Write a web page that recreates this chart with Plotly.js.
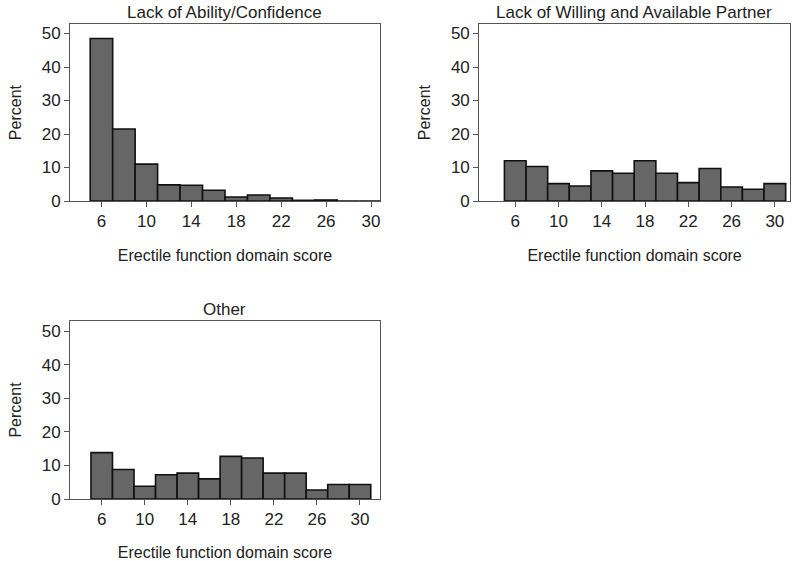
<!DOCTYPE html>
<html>
<head>
<meta charset="utf-8">
<script src="https://cdn.plot.ly/plotly-3.0.1.min.js"></script>
<style>html,body{margin:0;padding:0;background:#fff;}#chart{width:800px;height:561px;}</style>
</head>
<body>
<div id="chart"></div>
<script>
const scoreBins = [6, 8, 10, 12, 14, 16, 18, 20, 22, 24, 26, 28, 30];
const abilityPct = [48.5, 21.5, 11, 4.8, 4.7, 3.2, 1.2, 1.8, 0.9, 0.2, 0.3, 0, 0];
const partnerPct = [12, 10.3, 5.2, 4.5, 9, 8.3, 12, 8.3, 5.5, 9.7, 4.2, 3.5, 5.2];
const otherPct = [13.8, 8.8, 3.8, 7.2, 7.7, 6, 12.7, 12.2, 7.7, 7.7, 2.7, 4.3, 4.3];
const panelTitles = ["Lack of Ability/Confidence", "Lack of Willing and Available Partner", "Other"];
const xTickVals = [6, 10, 14, 18, 22, 26, 30];
const yTickVals = [0, 10, 20, 30, 40, 50];
const xLabel = "Erectile function domain score";
const yLabel = "Percent";

const font = "Liberation Sans, Arial, sans-serif";
const barStyle = {color: "#666666", line: {color: "#111111", width: 1.6}};

function bar(y, xa, ya) {
  return {type: "bar", x: scoreBins, y: y, width: 2, marker: barStyle,
          xaxis: xa, yaxis: ya, hoverinfo: "x+y", showlegend: false};
}

const data = [bar(abilityPct, "x", "y"), bar(partnerPct, "x2", "y2"), bar(otherPct, "x3", "y3")];

function xax(domain, range, anchor) {
  return {domain: domain, range: range, anchor: anchor, tickvals: xTickVals,
          ticks: "outside", ticklen: 5, tickcolor: "#555", showline: true, mirror: true,
          linecolor: "#555", linewidth: 1, showgrid: false, zeroline: false,
          tickfont: {family: font, size: 17, color: "#222"},
          title: {text: xLabel, font: {family: font, size: 16, color: "#222"}, standoff: 19}};
}
function yax(domain, range, anchor) {
  return {domain: domain, range: range, anchor: anchor, tickvals: yTickVals,
          ticks: "outside", ticklen: 5, tickcolor: "#555", showline: true, mirror: true,
          linecolor: "#555", linewidth: 1, showgrid: false, zeroline: false,
          tickfont: {family: font, size: 17, color: "#222"},
          title: {text: yLabel, font: {family: font, size: 16, color: "#222"}, standoff: 16}};
}

const layout = {
  width: 800, height: 561,
  margin: {l: 0, r: 0, t: 0, b: 0},
  paper_bgcolor: "#fff", plot_bgcolor: "#fff",
  bargap: 0,
  xaxis: xax([0.0875, 0.475], [3.2, 30.8], "y"),
  yaxis: yax([0.6417, 0.957], [0, 52.8], "x"),
  xaxis2: xax([0.599, 0.9875], [2.67, 31.4], "y2"),
  yaxis2: yax([0.6417, 0.957], [0, 52.8], "x2"),
  xaxis3: xax([0.0875, 0.475], [3.05, 31.86], "y3"),
  yaxis3: yax([0.1105, 0.4278], [0, 53], "x3"),
  annotations: [
    {text: panelTitles[0], xref: "paper", yref: "paper", x: 0.281, y: 0.957, yshift: 0, xanchor: "center", yanchor: "bottom", showarrow: false, font: {family: font, size: 17, color: "#222"}},
    {text: panelTitles[1], xref: "paper", yref: "paper", x: 0.793, y: 0.957, yshift: 0, xanchor: "center", yanchor: "bottom", showarrow: false, font: {family: font, size: 17, color: "#222"}},
    {text: panelTitles[2], xref: "paper", yref: "paper", x: 0.281, y: 0.4278, yshift: 0, xanchor: "center", yanchor: "bottom", showarrow: false, font: {family: font, size: 17, color: "#222"}}
  ]
};

Plotly.newPlot("chart", data, layout, {displayModeBar: false, staticPlot: true});
</script>
</body>
</html>
